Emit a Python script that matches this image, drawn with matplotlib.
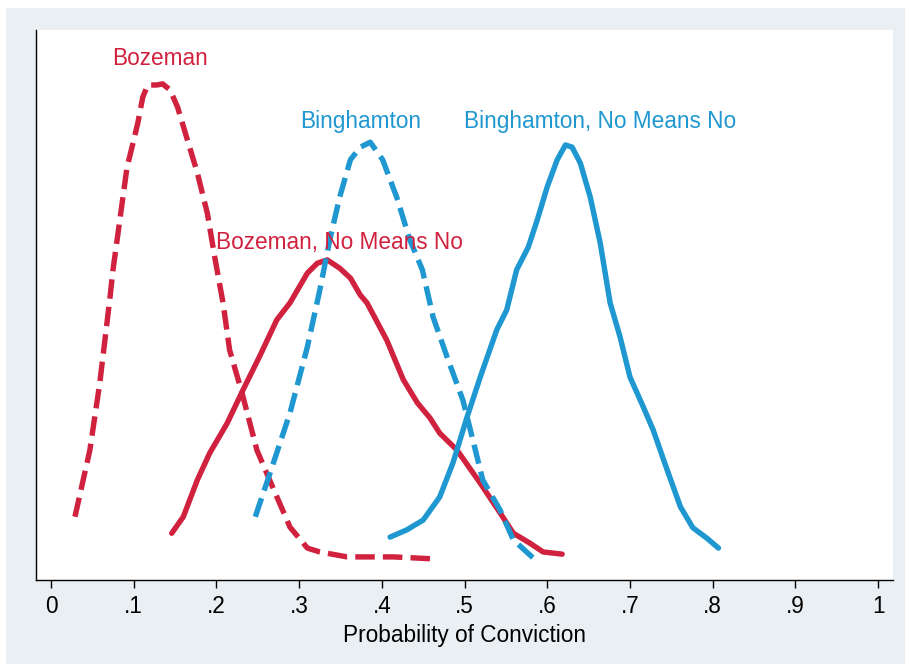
import matplotlib
matplotlib.use("Agg")
import matplotlib.pyplot as plt
from matplotlib.patches import Rectangle

plt.rcParams['font.family'] = ['Liberation Sans', 'DejaVu Sans']

RED = '#D0213F'
BLUE = '#1F97D0'

# density curves (x = probability, y = density, arbitrary scale)
boz_x = [0.029, 0.047, 0.059, 0.071, 0.075, 0.086, 0.092, 0.098, 0.105, 0.111,
         0.117, 0.128, 0.135, 0.144, 0.153, 0.164, 0.177, 0.189, 0.198, 0.208,
         0.216, 0.231, 0.249, 0.268, 0.289, 0.310, 0.325, 0.358, 0.389, 0.414, 0.468]
boz_y = [1.15, 2.36, 3.58, 5.09, 5.64, 6.85, 7.51, 7.87, 8.31, 8.78,
         9.00, 9.00, 9.02, 8.91, 8.60, 8.05, 7.40, 6.67, 5.87, 5.04,
         4.18, 3.40, 2.36, 1.69, 0.96, 0.58, 0.51, 0.42, 0.42, 0.42, 0.38]

boz_nmn_x = [0.146, 0.160, 0.177, 0.192, 0.213, 0.232, 0.253, 0.273, 0.289, 0.310,
             0.322, 0.334, 0.349, 0.362, 0.374, 0.382, 0.406, 0.426, 0.443, 0.458,
             0.470, 0.491, 0.519, 0.543, 0.559, 0.579, 0.595, 0.618]
boz_nmn_y = [0.85, 1.15, 1.82, 2.31, 2.85, 3.45, 4.09, 4.73, 5.04, 5.58,
             5.76, 5.82, 5.67, 5.49, 5.18, 5.04, 4.36, 3.64, 3.22, 2.95,
             2.67, 2.36, 1.76, 1.22, 0.85, 0.67, 0.51, 0.47]

bing_x = [0.247, 0.265, 0.289, 0.310, 0.325, 0.337, 0.349, 0.362, 0.374, 0.386,
          0.401, 0.418, 0.434, 0.449, 0.462, 0.479, 0.498, 0.510, 0.522, 0.543,
          0.559, 0.583]
bing_y = [1.15, 1.95, 3.04, 4.24, 5.27, 6.18, 6.96, 7.64, 7.87, 7.96,
          7.64, 6.96, 6.18, 5.64, 4.78, 4.05, 3.27, 2.55, 1.82, 1.27,
          0.73, 0.40]

bing_nmn_x = [0.410, 0.430, 0.450, 0.470, 0.486, 0.503, 0.519, 0.539, 0.551, 0.563,
              0.577, 0.588, 0.600, 0.612, 0.622, 0.630, 0.640, 0.652, 0.664, 0.676,
              0.688, 0.700, 0.716, 0.728, 0.745, 0.761, 0.776, 0.793, 0.807]
bing_nmn_y = [0.78, 0.91, 1.09, 1.51, 2.13, 2.96, 3.69, 4.55, 4.91, 5.64,
              6.05, 6.55, 7.15, 7.64, 7.91, 7.87, 7.58, 6.96, 6.13, 5.04,
              4.42, 3.69, 3.15, 2.73, 2.00, 1.33, 0.95, 0.76, 0.58]

labels = ['Bozeman', 'Bozeman, No Means No', 'Binghamton', 'Binghamton, No Means No']
label_x = [0.132, 0.349, 0.374, 0.664]
label_y = [9.48, 6.14, 8.33, 8.33]
label_col = [RED, RED, BLUE, BLUE]

xticks = [0, 0.1, 0.2, 0.3, 0.4, 0.5, 0.6, 0.7, 0.8, 0.9, 1]
xticklabels = ['0', '.1', '.2', '.3', '.4', '.5', '.6', '.7', '.8', '.9', '1']

fig = plt.figure(figsize=(9.05, 6.64), dpi=100)
fig.patch.set_facecolor('white')
fig.add_artist(Rectangle((6 / 905, 0), 1 - 6 / 905, 1 - 8 / 664,
                         transform=fig.transFigure, facecolor='#EAEFF3',
                         edgecolor='none', zorder=-5))

ax = fig.add_axes([36 / 905, 84 / 664, 857 / 905, 550 / 664])
ax.set_facecolor('white')

dash = (0, (3.6, 1.5))
lw = 3.9
ax.plot(boz_x, boz_y, color=RED, lw=lw, linestyle=dash, dash_capstyle='butt',
        dash_joinstyle='round')
ax.plot(boz_nmn_x, boz_nmn_y, color=RED, lw=lw, solid_capstyle='round',
        solid_joinstyle='round')
ax.plot(bing_x, bing_y, color=BLUE, lw=lw, linestyle=dash, dash_capstyle='butt',
        dash_joinstyle='round')
ax.plot(bing_nmn_x, bing_nmn_y, color=BLUE, lw=lw, solid_capstyle='round',
        solid_joinstyle='round')

for t, x, y, c in zip(labels, label_x, label_y, label_col):
    ax.text(x, y, t, color=c, fontsize=16.3, ha='center', va='center')

ax.set_xlim(-0.0181, 1.018)
ax.set_ylim(0, 10)
ax.set_xticks(xticks)
ax.set_xticklabels(xticklabels)
ax.set_yticks([])
ax.tick_params(axis='x', direction='out', length=6, width=1, labelsize=16.3, pad=5)
for s in ['top', 'right']:
    ax.spines[s].set_visible(False)
for s in ['left', 'bottom']:
    ax.spines[s].set_linewidth(1)
ax.set_xlabel('Probability of Conviction', fontsize=16.3, labelpad=4)

fig.savefig('out.png', dpi=100)
